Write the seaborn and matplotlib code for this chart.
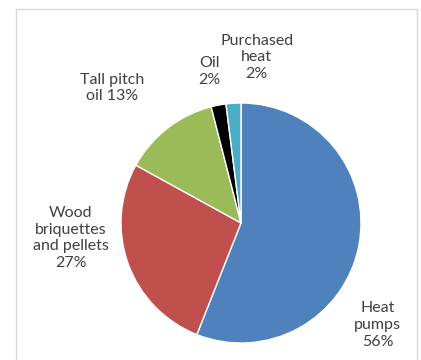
import matplotlib
matplotlib.use("Agg")
import matplotlib.pyplot as plt
import seaborn as sns
from matplotlib.patches import Rectangle

sns.set_theme(style="white")
plt.rcParams["font.family"] = ["Lato", "DejaVu Sans"]

# data
sources = ["Heat\npumps", "Wood\nbriquettes\nand pellets", "Tall pitch\noil", "Oil", "Purchased\nheat"]
shares = [56, 27, 13, 2, 2]
colors = ["#4F81BD", "#C0504D", "#9BBB59", "#000000", "#4BACC6"]
# label spots (data coords, pie radius = 1)
label_xy = [(1.14, -0.85), (-1.42, -0.125), (-1.075, 1.125), (-0.26, 1.26), (0.13, 1.38)]

fig = plt.figure(figsize=(4.21, 3.6), dpi=100)
fig.patch.set_facecolor("white")

# light chart frame
fig.add_artist(Rectangle((16 / 421, -0.05), (417 - 16) / 421, (360 - 9) / 360 + 0.05,
                         transform=fig.transFigure, fill=False,
                         edgecolor="#D9D9D9", linewidth=1))

ax = fig.add_axes([121 / 421, 17 / 360, 240 / 421, 240 / 360])
wedges, _ = ax.pie(shares, colors=colors, startangle=90, counterclock=False,
                   wedgeprops=dict(edgecolor="white", linewidth=1))
ax.set_xlim(-1, 1)
ax.set_ylim(-1, 1)
ax.set_aspect("equal")
ax.axis("off")

for name, val, (x, y) in zip(sources, shares, label_xy):
    if name == "Tall pitch\noil":
        txt = f"Tall pitch\noil {val}%"
    else:
        txt = f"{name}\n{val}%"
    ax.text(x, y, txt, ha="center", va="center", fontsize=11.5,
            color="#404040", linespacing=1.25, clip_on=False)

fig.savefig("out.png", dpi=100)
